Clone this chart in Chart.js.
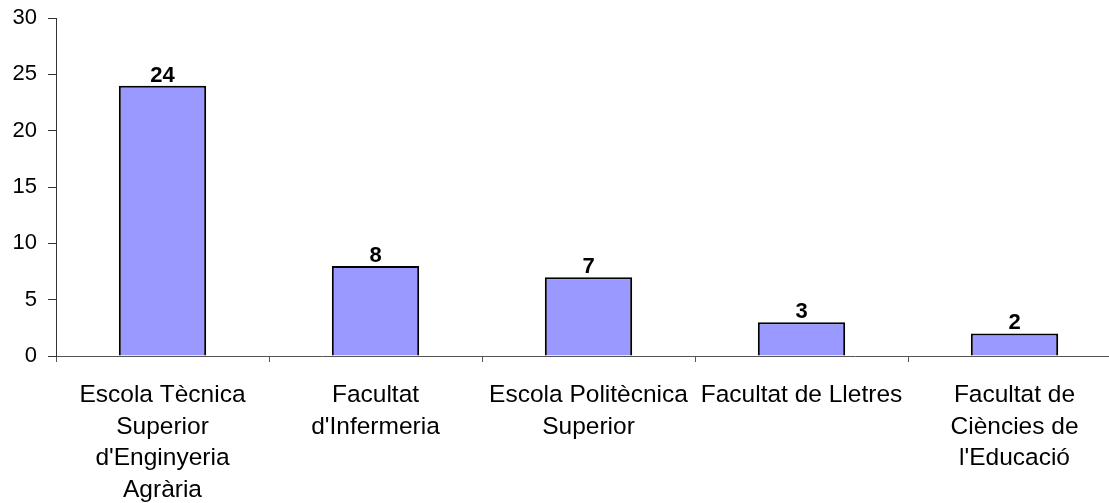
<!DOCTYPE html>
<html>
<head>
<meta charset="utf-8">
<script src="https://cdn.jsdelivr.net/npm/chart.js@4/dist/chart.umd.min.js"></script>
<style>
html,body{margin:0;padding:0;background:#fff;overflow:hidden;}
#wrap{width:1125px;height:503px;}
</style>
</head>
<body>
<div id="wrap"><canvas id="c" width="1125" height="503"></canvas></div>
<script>
const categories = [
  ["Escola Tècnica","Superior","d'Enginyeria","Agrària"],
  ["Facultat","d'Infermeria"],
  ["Escola Politècnica","Superior"],
  ["Facultat de Lletres"],
  ["Facultat de","Ciències de","l'Educació"]
];
const values = [24, 8, 7, 3, 2];
const yTicks = [0, 5, 10, 15, 20, 25, 30];

const FONT = "'Liberation Sans', Arial, sans-serif";

const valueLabels = {
  id: 'valueLabels',
  afterDatasetsDraw(chart) {
    const ctx = chart.ctx;
    const meta = chart.getDatasetMeta(0);
    ctx.save();
    ctx.font = "bold 22px " + FONT;
    ctx.fillStyle = "#000";
    ctx.textAlign = "center";
    ctx.textBaseline = "alphabetic";
    meta.data.forEach((bar, i) => {
      ctx.fillText(String(values[i]), bar.x, bar.y - 4);
    });
    ctx.restore();
  }
};

new Chart(document.getElementById('c'), {
  type: 'bar',
  data: {
    labels: categories,
    datasets: [{
      data: values,
      backgroundColor: '#9999FF',
      borderColor: '#000',
      borderWidth: 2,
      borderSkipped: 'bottom',
      categoryPercentage: 1,
      barPercentage: 0.41
    }]
  },
  options: {
    responsive: false,
    animation: false,
    layout: { padding: { top: 0, right: 4, left: 0, bottom: 0 } },
    plugins: { legend: { display: false }, tooltip: { enabled: false } },
    scales: {
      x: {
        offset: true,
        grid: { offset: true, drawOnChartArea: false, tickLength: 6, color: '#555', lineWidth: 1 },
        border: { color: '#555', width: 1 },
        ticks: { color: '#000', font: { family: FONT, size: 24.5, lineHeight: 1.3 }, maxRotation: 0, autoSkip: false, padding: 17 },
        afterFit(s) { s.height = 147; }
      },
      y: {
        min: 0, max: 30,
        afterBuildTicks(s) { s.ticks = yTicks.map(v => ({ value: v })); },
        grid: { drawOnChartArea: false, tickLength: 8, color: '#333' },
        border: { color: '#333', width: 1 },
        ticks: { color: '#000', font: { family: FONT, size: 22, lineHeight: 0.64 }, padding: 11 },
        afterFit(s) { s.width = 56; }
      }
    }
  },
  plugins: [valueLabels]
});
</script>
</body>
</html>
